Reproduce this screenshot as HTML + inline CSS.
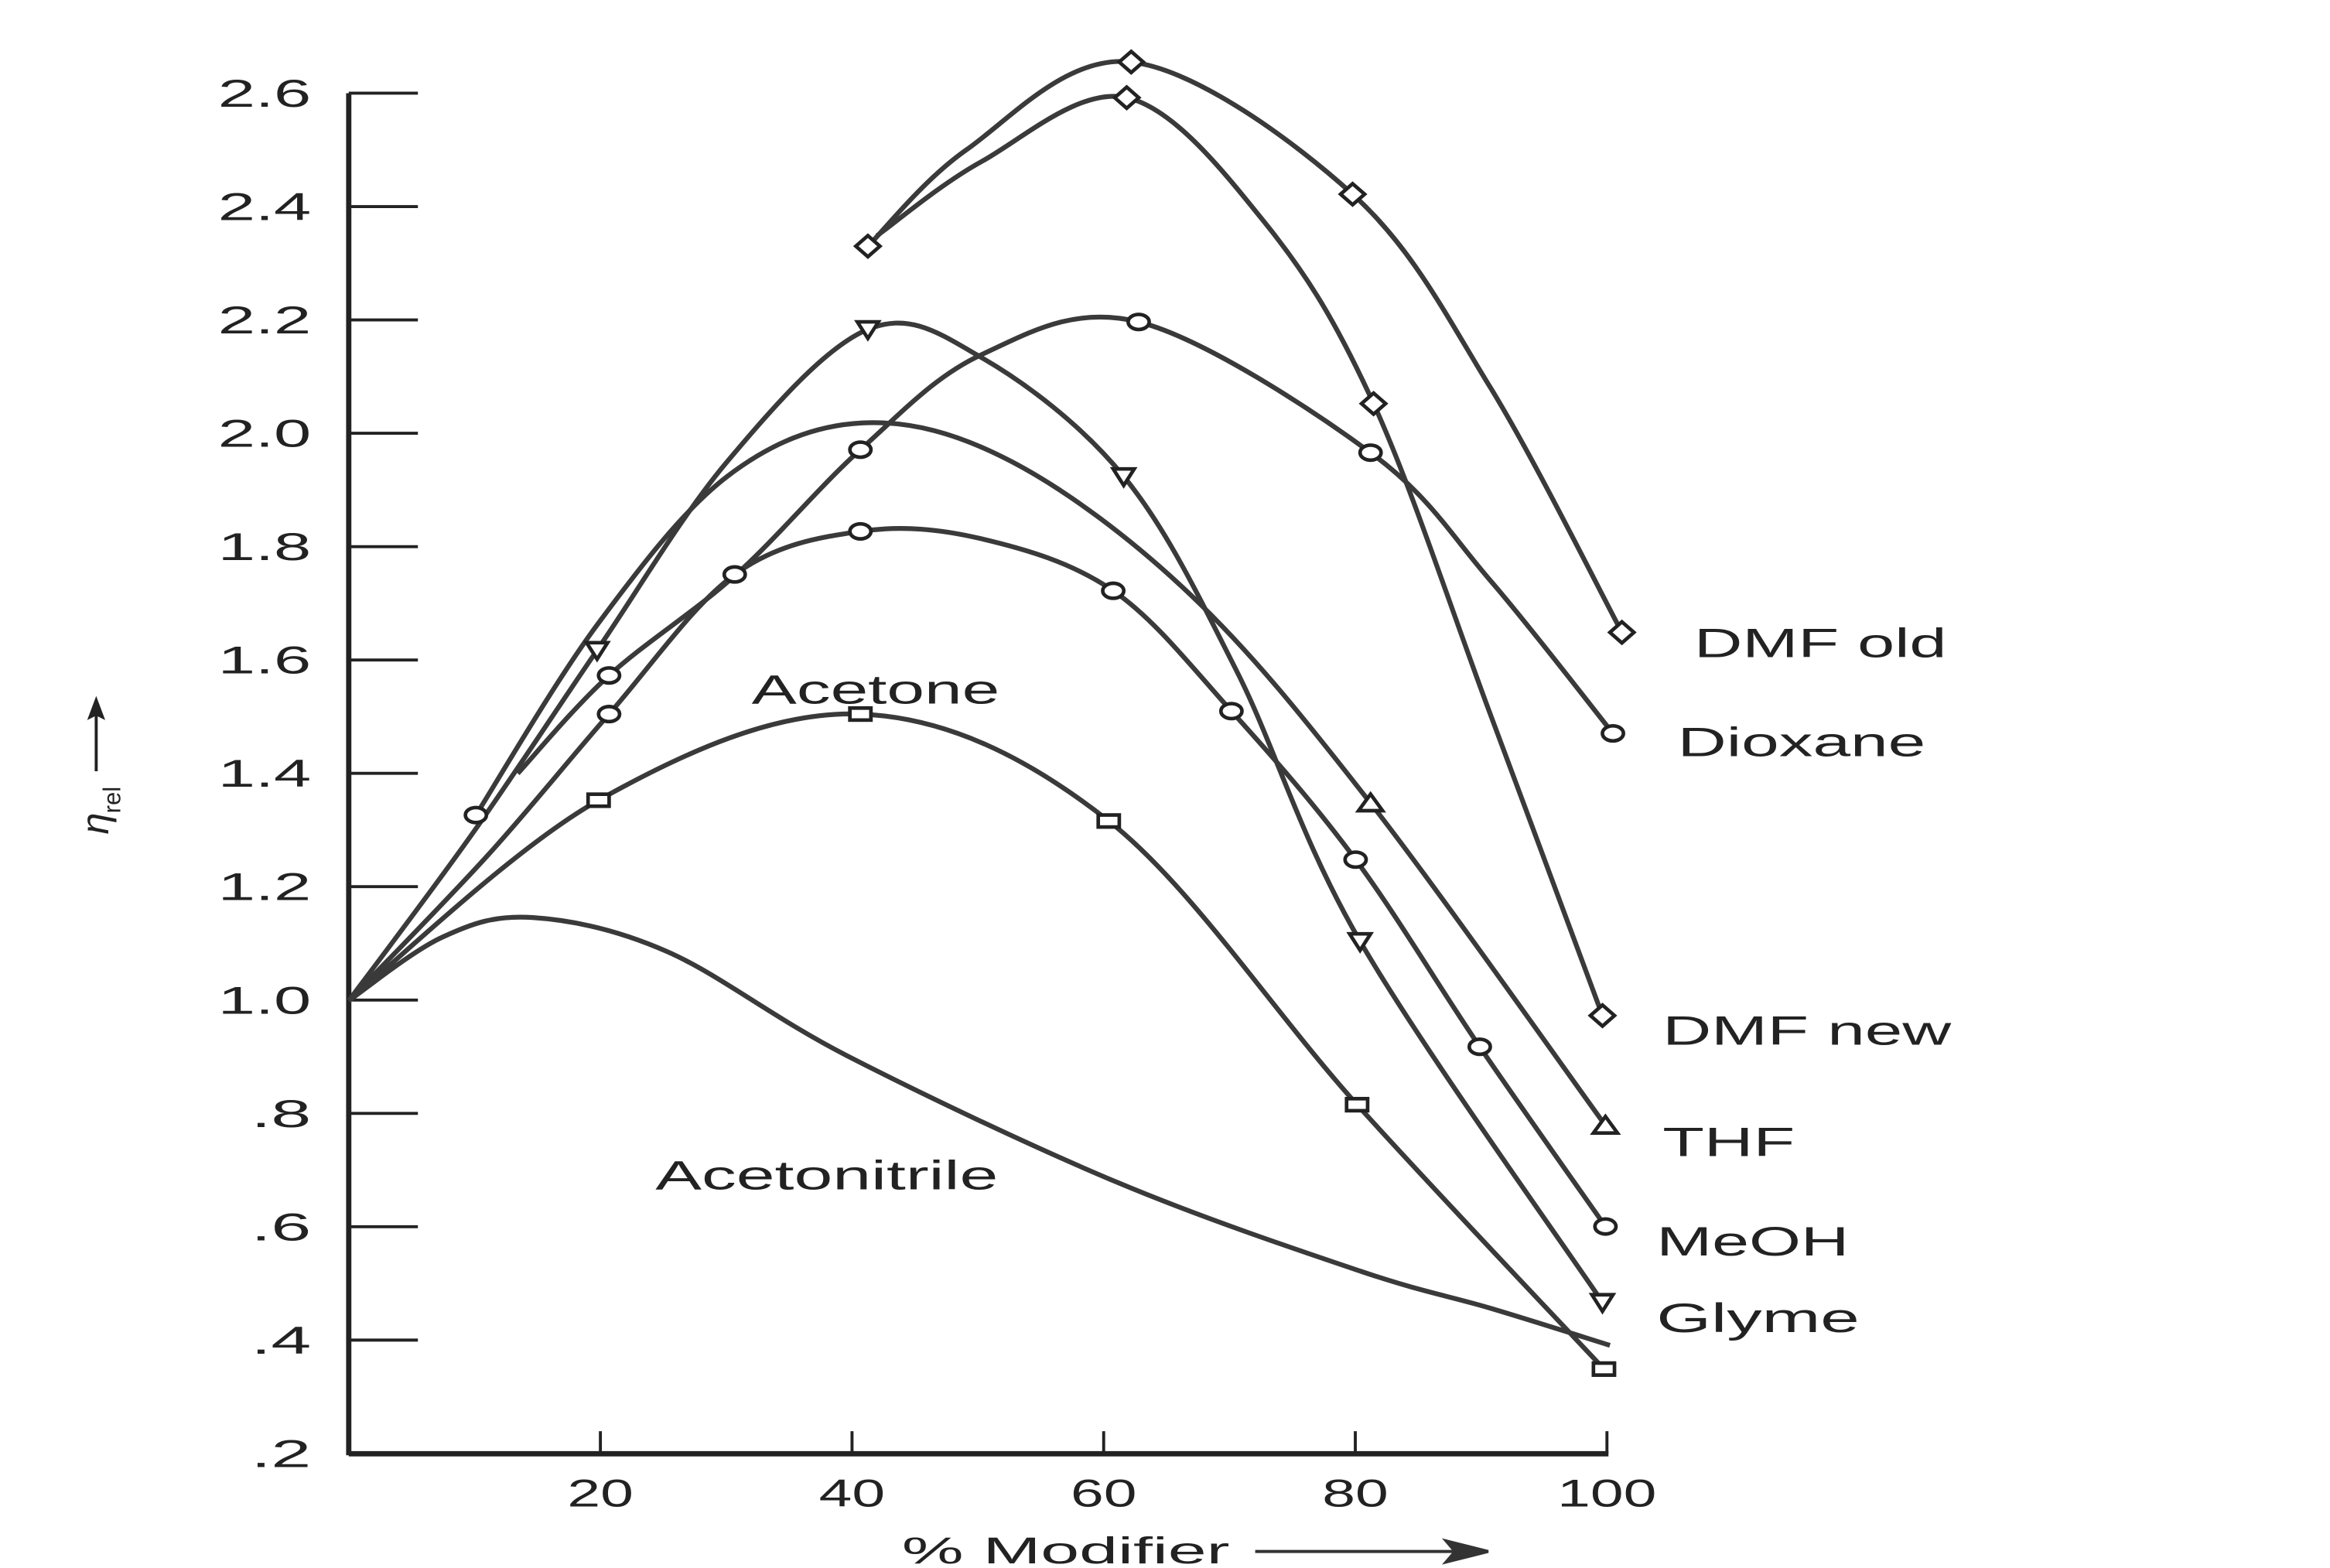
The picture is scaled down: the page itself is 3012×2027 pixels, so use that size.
<!DOCTYPE html>
<html><head><meta charset="utf-8"><style>
html,body{margin:0;padding:0;background:#fff;width:3012px;height:2027px;overflow:hidden}
svg{display:block}
text{font-family:"Liberation Sans",sans-serif;fill:#222}
</style></head><body>
<svg id="s" width="3012" height="2027" viewBox="0 0 1550 1043" preserveAspectRatio="none">
<g stroke="#222" stroke-width="3.5" fill="none">
<line x1="232" y1="62" x2="232" y2="968"/>
<line x1="232" y1="967" x2="1070" y2="967"/>
</g>
<g id="yt" stroke="#222" stroke-width="2"></g>
<g id="lab" font-size="26"></g>
<g id="series" stroke="#3a3a3a" stroke-width="3.2" fill="none"></g>
<g id="marks" stroke="#222" stroke-width="2.4" fill="#fff"></g>
<g font-size="27">
<text x="1127" y="437" textLength="168" lengthAdjust="spacingAndGlyphs">DMF old</text>
<text x="1116" y="503" textLength="165" lengthAdjust="spacingAndGlyphs">Dioxane</text>
<text x="1106" y="695" textLength="192" lengthAdjust="spacingAndGlyphs">DMF new</text>
<text x="1106" y="769" textLength="88" lengthAdjust="spacingAndGlyphs">THF</text>
<text x="1102" y="835" textLength="128" lengthAdjust="spacingAndGlyphs">MeOH</text>
<text x="1102" y="886" textLength="135" lengthAdjust="spacingAndGlyphs">Glyme</text>
<text x="500" y="468" textLength="165" lengthAdjust="spacingAndGlyphs">Acetone</text>
<text x="436" y="791" textLength="228" lengthAdjust="spacingAndGlyphs">Acetonitrile</text>
<text x="600" y="1040" textLength="218" lengthAdjust="spacingAndGlyphs" font-size="25">% Modifier</text>
</g>
<g stroke="#333" stroke-width="2" fill="#333">
<line x1="835" y1="1032" x2="975" y2="1032"/>
<polygon points="990,1032 962,1025 968,1032 962,1039"/>
</g>
<g transform="translate(72,555) rotate(-90)">
<text x="0" y="0" font-size="26" font-style="italic">η</text>
<text x="14" y="8" font-size="16">rel</text>
<line x1="42" y1="-8" x2="80" y2="-8" stroke="#222" stroke-width="2"/>
<polygon points="92,-8 76,-14 79,-8 76,-2" fill="#222"/>
</g>
</svg>
<script>
var NS="http://www.w3.org/2000/svg";
function el(p,t,a){var e=document.createElementNS(NS,t);for(var k in a)e.setAttribute(k,a[k]);p.appendChild(e);return e;}
function Y(v){return 62+(2.6-v)/0.2*75.4;}
function X(p){return 232+p*8.37;}
var yt=document.getElementById('yt'),lab=document.getElementById('lab');
var yl=["2.6","2.4","2.2","2.0","1.8","1.6","1.4","1.2","1.0",".8",".6",".4",".2"];
for(var i=0;i<13;i++){var v=2.6-i*0.2,y=Y(v);
 if(i<12)el(yt,'line',{x1:232,y1:y,x2:278,y2:y});
 var w=yl[i].length==3?62:40;
 var t=el(lab,'text',{x:207-w,y:y+9,textLength:w,lengthAdjust:'spacingAndGlyphs'});t.textContent=yl[i];}
[20,40,60,80,100].forEach(function(p){el(yt,'line',{x1:X(p),y1:967,x2:X(p),y2:952});
 var w=p==100?66:44;
 var t=el(lab,'text',{x:X(p)-w/2,y:1002,textLength:w,lengthAdjust:'spacingAndGlyphs'});t.textContent=p;});
function cv(x,y){return [232+(x-237)*837/841, 62+(y-62)*905/916];}
function path(pts){pts=pts.map(function(p){return cv(p[0],p[1]);});
 var d="M"+pts[0][0]+","+pts[0][1];
 for(var i=0;i<pts.length-1;i++){var p0=pts[i-1]||pts[i],p1=pts[i],p2=pts[i+1],p3=pts[i+2]||p2;
  var c1=[p1[0]+(p2[0]-p0[0])/6,p1[1]+(p2[1]-p0[1])/6],c2=[p2[0]-(p3[0]-p1[0])/6,p2[1]-(p3[1]-p1[1])/6];
  d+=" C"+c1+" "+c2+" "+p2;}
 el(document.getElementById('series'),'path',{d:d});}
var M=document.getElementById('marks');
function mk(type,x,y){var c=cv(x,y);x=c[0];y=c[1];
 if(type=='o')el(M,'ellipse',{cx:x,cy:y,rx:7,ry:5});
 else if(type=='d')el(M,'polygon',{points:[x,y-7,x+8,y,x,y+7,x-8,y].join(' ')});
 else if(type=='s')el(M,'rect',{x:x-7,y:y-4,width:14,height:8});
 else if(type=='v')el(M,'polygon',{points:[x-7,y-5,x+7,y-5,x,y+6].join(' ')});
 else if(type=='^')el(M,'polygon',{points:[x-8,y+5,x+8,y+5,x,y-6].join(' ')});}
var S=[
 {p:[[584,165],[650,100],[760,41],[908,130],[1000,260],[1088,425]],m:'d',k:[[584,165],[760,41],[908,130],[1088,425]]},
 {p:[[590,158],[660,108],[757,65],[850,150],[922,271],[1000,480],[1075,683]],m:'d',k:[[757,65],[922,271],[1075,683]]},
 {p:[[350,520],[411,454],[496,386],[579,302],[660,238],[765,216],[920,304],[1000,390],[1082,493]],m:'o',k:[[411,454],[579,302],[765,216],[920,304],[1082,493]]},
 {p:[[322,548],[403,420],[490,320],[580,284],[680,310],[800,400],[920,540],[1077,757]],m:'^',k:[[920,540],[1077,757]]},
 {p:[[237,673],[320,560],[403,437],[490,310],[584,221],[660,240],[755,320],[830,450],[913,633],[1075,876]],m:'v',k:[[403,437],[584,221],[755,320],[913,633],[1075,876]]},
 {p:[[237,673],[330,575],[411,480],[495,386],[579,357],[660,362],[748,397],[827,478],[910,578],[993,704],[1077,825]],m:'o',k:[[322,548],[411,480],[495,386],[579,357],[748,397],[827,478],[910,578],[993,704],[1077,825]]},
 {p:[[237,673],[404,538],[579,480],[745,552],[911,743],[1076,921]],m:'s',k:[[404,538],[579,480],[745,552],[911,743],[1076,921]]},
 {p:[[237,673],[300,630],[360,617],[450,640],[570,710],[750,795],[913,855],[1000,880],[1080,905]],m:null,k:[]}
];
S.forEach(function(s){path(s.p);s.k.forEach(function(q){mk(s.m,q[0],q[1]);});});
</script>
</body></html>
